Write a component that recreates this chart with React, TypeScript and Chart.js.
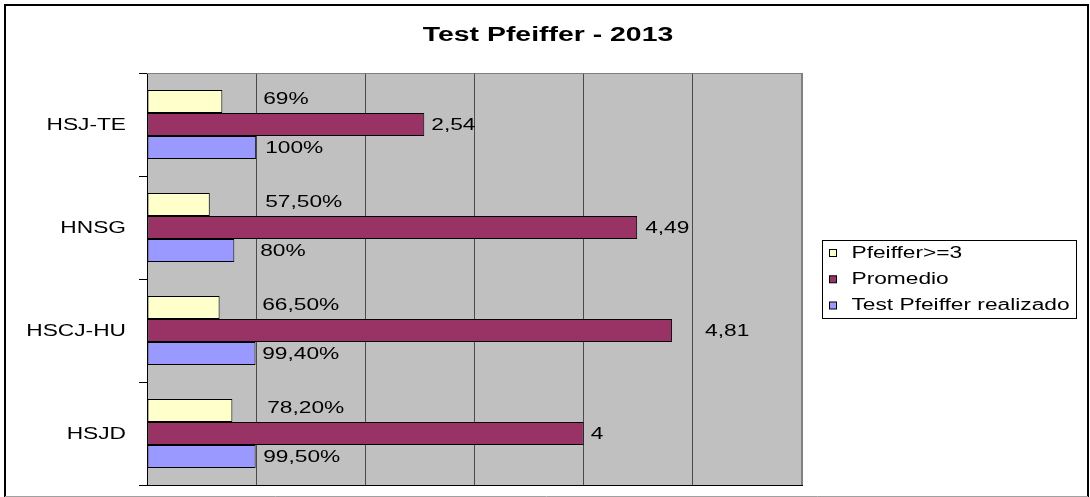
import React, { useEffect, useRef } from 'react';
import { Chart, registerables } from 'chart.js';

Chart.register(...registerables);

// ---- data ----
const categories = ['HSJ-TE', 'HNSG', 'HSCJ-HU', 'HSJD'];
const seriesNames = ['Pfeiffer>=3', 'Promedio', 'Test Pfeiffer realizado'];
const pfeifferPos = [0.69, 0.575, 0.665, 0.782];
const promedio = [2.54, 4.49, 4.81, 4];
const realizado = [1.0, 0.8, 0.994, 0.995];
const pfeifferPosLabels = ['69%', '57,50%', '66,50%', '78,20%'];
const promedioLabels = ['2,54', '4,49', '4,81', '4'];
const realizadoLabels = ['100%', '80%', '99,40%', '99,50%'];
const xMin = 0;
const xMax = 6;
const xStep = 1;
const titleText = 'Test Pfeiffer - 2013';

// ---- label placement (Excel labels were nudged by hand) ----
const pctLabelAnchor = 1; // percent labels sit in a column past the 100% gridline
const pfeifferPosLabelNudge = [7, 9, 6, 11];
const realizadoLabelNudge = [9, 4, 6, 7];
const promedioLabelNudge = [7, 8, 33, 7];

// ---- style ----
const colors = ['#FFFFCC', '#993366', '#9999FF'];
const SX = 1.42; // the original text is rendered horizontally stretched
const FAMILY = "'Liberation Sans', Arial, sans-serif";

function drawText(
  ctx: CanvasRenderingContext2D,
  text: string,
  x: number,
  yCenter: number,
  align: CanvasTextAlign,
  size: number,
  bold = false
) {
  ctx.save();
  ctx.font = `${bold ? 'bold ' : ''}${size}px ${FAMILY}`;
  ctx.fillStyle = '#000';
  ctx.textBaseline = 'alphabetic';
  ctx.textAlign = align;
  ctx.translate(x, yCenter + size * 0.358);
  ctx.scale(SX, 1);
  ctx.fillText(text, 0, 0);
  ctx.restore();
}

export default function App() {
  const ref = useRef<HTMLCanvasElement>(null);

  useEffect(() => {
    const canvas = ref.current!;
    const excelLook = {
      id: 'excelLook',
      beforeDraw(chart: any) {
        const { ctx, chartArea: a, width, height } = chart;
        ctx.save();
        ctx.fillStyle = '#ffffff';
        ctx.fillRect(0, 0, width, height);
        ctx.fillStyle = '#C0C0C0';
        ctx.fillRect(a.left, a.top, a.right - a.left, a.bottom - a.top);
        ctx.restore();
      },
      beforeDatasetsDraw(chart: any) {
        const { ctx, chartArea: a } = chart;
        ctx.save();
        ctx.strokeStyle = '#808080';
        ctx.lineWidth = 1;
        ctx.beginPath();
        ctx.moveTo(a.left, a.top + 0.5);
        ctx.lineTo(a.right, a.top + 0.5);
        ctx.stroke();
        ctx.lineWidth = 2;
        ctx.beginPath();
        ctx.moveTo(a.right, a.top);
        ctx.lineTo(a.right, a.bottom);
        ctx.stroke();
        ctx.restore();
      },
      afterDraw(chart: any) {
        const { ctx, chartArea: a } = chart;
        const xs = chart.scales.x;
        const ys = chart.scales.y;

        // outer frame
        ctx.save();
        ctx.strokeStyle = '#000';
        ctx.lineWidth = 2;
        ctx.beginPath();
        ctx.moveTo(5, 497);
        ctx.lineTo(5, 5);
        ctx.lineTo(1088, 5);
        ctx.lineTo(1088, 497);
        ctx.stroke();
        ctx.strokeStyle = '#A0A0A0';
        ctx.lineWidth = 1;
        ctx.beginPath();
        ctx.moveTo(5, 496.5);
        ctx.lineTo(1088, 496.5);
        ctx.stroke();
        ctx.restore();

        // title
        drawText(ctx, titleText, 548, 33.5, 'center', 20, true);

        // category labels
        categories.forEach((c, i) => {
          drawText(ctx, c, a.left - 21, ys.getPixelForTick(i), 'right', 16);
        });

        // data labels
        const anchorPx = xs.getPixelForValue(pctLabelAnchor);
        const m0 = chart.getDatasetMeta(0).data;
        const m1 = chart.getDatasetMeta(1).data;
        const m2 = chart.getDatasetMeta(2).data;
        pfeifferPosLabels.forEach((t, i) => {
          drawText(ctx, t, anchorPx + pfeifferPosLabelNudge[i], m0[i].y - 3.5, 'left', 16);
        });
        promedioLabels.forEach((t, i) => {
          drawText(ctx, t, m1[i].x + promedioLabelNudge[i], m1[i].y, 'left', 16);
        });
        realizadoLabels.forEach((t, i) => {
          drawText(ctx, t, anchorPx + realizadoLabelNudge[i], m2[i].y - 0.5, 'left', 16);
        });

        // legend
        ctx.save();
        ctx.strokeStyle = '#000';
        ctx.lineWidth = 1;
        ctx.strokeRect(822.5, 240.5, 254, 78);
        const rows = [252, 278.3, 304.5];
        seriesNames.forEach((n, i) => {
          ctx.fillStyle = colors[i];
          ctx.fillRect(829.5, rows[i] - 2.5, 7, 7);
          ctx.strokeRect(829.5, rows[i] - 2.5, 7, 7);
          drawText(ctx, n, 851.5, rows[i], 'left', 16);
        });
        ctx.restore();
      },
    };

    const chart = new Chart(canvas, {
      type: 'bar',
      data: {
        labels: categories,
        datasets: [
          { label: seriesNames[0], data: pfeifferPos, backgroundColor: colors[0] },
          { label: seriesNames[1], data: promedio, backgroundColor: colors[1] },
          { label: seriesNames[2], data: realizado, backgroundColor: colors[2] },
        ].map((d) => ({
          ...d,
          borderColor: '#000',
          borderWidth: 1,
          borderSkipped: false as any,
          categoryPercentage: 0.67,
          barPercentage: 1.0,
        })),
      },
      options: {
        indexAxis: 'y',
        responsive: false,
        animation: false,
        devicePixelRatio: 1,
        layout: { padding: { left: 5, top: 73, right: 288, bottom: 12 } },
        plugins: {
          legend: { display: false },
          title: { display: false },
          tooltip: { enabled: false },
        },
        scales: {
          x: {
            type: 'linear',
            min: xMin,
            max: xMax,
            ticks: { stepSize: xStep, display: false },
            grid: { color: '#4a4a4a', lineWidth: 1, drawTicks: false },
            border: { display: true, color: '#000', width: 1 },
            afterFit: (s: any) => {
              s.height = 0;
            },
          },
          y: {
            type: 'category',
            offset: true,
            ticks: { display: false },
            grid: {
              offset: true,
              drawOnChartArea: false,
              drawTicks: true,
              tickLength: 8,
              color: '#000',
            },
            border: { display: true, color: '#000', width: 1 },
            afterFit: (s: any) => {
              s.width = 142;
            },
          },
        },
      },
      plugins: [excelLook],
    } as any);

    return () => chart.destroy();
  }, []);

  return (
    <div style={{ position: 'absolute', left: 0, top: 0, width: 1090, height: 497 }}>
      <canvas ref={ref} width={1090} height={497} style={{ display: 'block' }} />
    </div>
  );
}
